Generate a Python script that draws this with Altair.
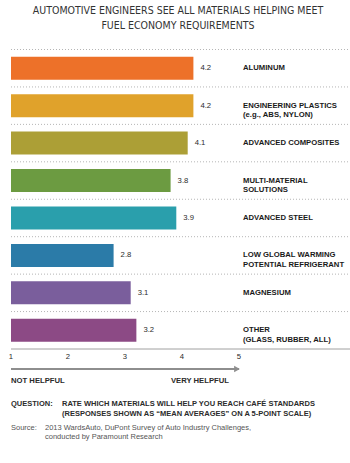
import altair as alt
import pandas as pd

# ---- data ----
categories = [
    "ALUMINUM",
    "ENGINEERING PLASTICS",
    "ADVANCED COMPOSITES",
    "MULTI-MATERIAL SOLUTIONS",
    "ADVANCED STEEL",
    "LOW GLOBAL WARMING POTENTIAL REFRIGERANT",
    "MAGNESIUM",
    "OTHER",
]
labels = [
    "ALUMINUM",
    "ENGINEERING PLASTICS\n(e.g., ABS, NYLON)",
    "ADVANCED COMPOSITES",
    "MULTI-MATERIAL\nSOLUTIONS",
    "ADVANCED STEEL",
    "LOW GLOBAL WARMING\nPOTENTIAL REFRIGERANT",
    "MAGNESIUM",
    "OTHER\n(GLASS, RUBBER, ALL)",
]
values = [4.2, 4.2, 4.1, 3.8, 3.9, 2.8, 3.1, 3.2]
colors = ["#ED7129", "#E0A22B", "#AC9F36", "#6C9B41",
          "#2A9FAC", "#2B7BA8", "#7A5E9C", "#8C4A85"]
ticks = [1, 2, 3, 4, 5]
scale_ends = ["NOT HELPFUL", "VERY HELPFUL"]
title_lines = ["AUTOMOTIVE ENGINEERS SEE ALL MATERIALS HELPING MEET",
               "FUEL ECONOMY REQUIREMENTS"]
question = ["RATE WHICH MATERIALS WILL HELP YOU REACH CAFÉ STANDARDS",
            "(RESPONSES SHOWN AS \u201cMEAN AVERAGES\u201d ON A 5-POINT SCALE)"]
source = ["2013 WardsAuto, DuPont Survey of Auto Industry Challenges,",
          "conducted by Paramount Research"]

df = pd.DataFrame({"cat": categories, "label": labels, "value": values})
tick_df = pd.DataFrame({"tick": ticks})
arrow_df = pd.DataFrame({"start": [min(ticks)], "end": [max(ticks)]})

W, H = 350, 463
Y0, Y1 = 49.5, 349.0
STEP = (Y1 - Y0) / len(categories)
TXT = "#2b2b2b"
SANS = "Liberation Sans, Arial, sans-serif"
NARROW = "'Liberation Sans Narrow', 'DejaVu Sans Condensed', sans-serif"

xs = alt.Scale(domain=[1, 5], range=[11, 239])
ys = alt.Scale(domain=categories, range=[Y0, Y1], paddingInner=0.385, paddingOuter=0.1925)
X = alt.X("value:Q", scale=xs, axis=None)
Y = alt.Y("cat:N", scale=ys, sort=categories, axis=None)

base = alt.Chart(df)

seps = base.mark_rule(strokeDash=[1, 2], color="#b5b5b5", strokeWidth=1, yOffset=-STEP / 2).encode(
    y=Y, x=alt.value(11), x2=alt.value(350))
bottom = base.transform_filter(alt.datum.cat == categories[-1]).mark_rule(
    color="#a0a0a0", strokeWidth=1, yOffset=STEP / 2).encode(
    y=Y, x=alt.value(11), x2=alt.value(350))

bars = base.mark_bar().encode(
    x=X, x2=alt.datum(1), y=Y,
    color=alt.Color("cat:N", scale=alt.Scale(domain=categories, range=colors), legend=None))

vals = base.mark_text(align="left", baseline="middle", dx=7, fontSize=7.7, font=SANS, color=TXT).encode(
    x=X, y=Y, text=alt.Text("value:Q", format=".1f"))

cats = base.mark_text(align="left", baseline="middle", fontSize=7.7, font=SANS, fontWeight="bold",
                      color="#1a1a1a", lineBreak="\n", lineHeight=9.5).encode(
    x=alt.value(243), y=Y, text="label:N")

tick_text = alt.Chart(tick_df).mark_text(baseline="middle", fontSize=7.7, font=SANS, color=TXT).encode(
    x=alt.X("tick:Q", scale=xs, axis=None), y=alt.value(357), text="tick:Q")

arrow = alt.Chart(arrow_df).mark_rule(color="#8e8e8e", strokeWidth=2).encode(
    x=alt.X("start:Q", scale=xs, axis=None), x2="end:Q", y=alt.value(369))
head = alt.Chart(arrow_df).mark_point(shape="triangle-right", filled=True, opacity=1,
                                      color="#8e8e8e", size=45, xOffset=-2).encode(
    x=alt.X("end:Q", scale=xs, axis=None), y=alt.value(369))


def txt(t, x, y, align="left", bold=False, size=7.7, color=TXT, font=SANS):
    return alt.Chart(pd.DataFrame({"t": [t]})).mark_text(
        align=align, baseline="middle", fontSize=size, font=font,
        fontWeight="bold" if bold else "normal", color=color).encode(
        x=alt.value(x), y=alt.value(y), text="t:N")


layers = [seps, bottom, bars, vals, cats, tick_text, arrow, head,
          txt(title_lines[0], 178, 10.5, align="center", size=10.5, color="#333", font=NARROW),
          txt(title_lines[1], 178, 25.5, align="center", size=10.5, color="#333", font=NARROW),
          txt(scale_ends[0], 11, 381, bold=True),
          txt(scale_ends[1], 229, 381, align="right", bold=True),
          txt("QUESTION:", 11, 404, bold=True, size=7.5),
          txt(question[0], 62, 404, bold=True, size=7.5),
          txt(question[1], 62, 413.5, bold=True, size=7.5),
          txt("Source:", 11, 427.5, size=7.5, color="#555"),
          txt(source[0], 45, 427.5, size=7.5, color="#555"),
          txt(source[1], 45, 436.5, size=7.5, color="#555"),
          ]

chart = alt.layer(*layers).properties(
    width=W, height=H, autosize=alt.AutoSizeParams(type="none"), padding=0,
    background="white"
).configure_view(stroke=None)

chart.save("out.html", embed_options={"renderer": "svg", "actions": False})
